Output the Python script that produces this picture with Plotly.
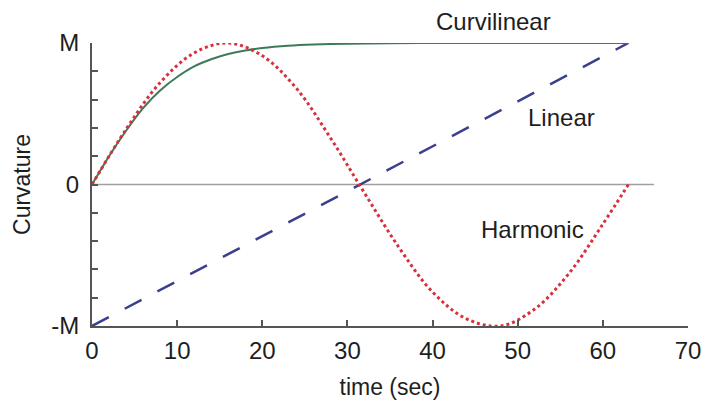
import plotly.graph_objects as go

# Time samples (sec) and normalised curvature (in units of M)
curv_t = [0, 2, 4, 6, 8, 10, 12, 14, 16, 18, 20, 23, 26, 30, 35, 42, 50, 63]
curv_k = [0, 0.20, 0.38, 0.54, 0.665, 0.76, 0.835, 0.885, 0.922, 0.947, 0.964, 0.98, 0.989, 0.995, 0.998, 1.0, 1.0, 1.0]

harm_t = [0, 4, 8, 12, 16, 20, 24, 28, 32, 36, 40, 44, 48, 52, 56, 60, 63]
harm_k = [0, 0.39, 0.72, 0.93, 1.0, 0.91, 0.68, 0.33, -0.06, -0.44, -0.76, -0.95, -1.0, -0.88, -0.63, -0.28, 0.0]

lin_t = [0, 63]
lin_k = [-1, 1]

zero_t = [0, 66]
zero_k = [0, 0]

x_ticks = [0, 10, 20, 30, 40, 50, 60, 70]
y_ticks = [-1, -0.8, -0.6, -0.4, -0.2, 0, 0.2, 0.4, 0.6, 0.8, 1]
y_ticktext = ["-M", "", "", "", "", "0", "", "", "", "", "M"]

FONT = "Liberation Sans, Arial, sans-serif"
AXIS = "#555555"
TEXT = "#1e1e1e"

fig = go.Figure()
fig.add_trace(go.Scatter(x=zero_t, y=zero_k, mode="lines",
                         line=dict(color="#a0a0a0", width=1.5), hoverinfo="skip"))
fig.add_trace(go.Scatter(x=lin_t, y=lin_k, mode="lines", name="Linear",
                         line=dict(color="#3b3f8c", width=2.5, dash="19px,18px")))
fig.add_trace(go.Scatter(x=curv_t, y=curv_k, mode="lines", name="Curvilinear",
                         line=dict(color="#3d7a58", width=2, shape="spline", smoothing=0.6)))
fig.add_trace(go.Scatter(x=harm_t, y=harm_k, mode="lines", name="Harmonic",
                         line=dict(color="#d8303c", width=3, dash="dot", shape="spline", smoothing=1)))

# Series labels: (text, x, y, vertical pixel shift)
labels = [("Curvilinear", 47.1, 1.0, 22), ("Linear", 55.1, 0.477, 0), ("Harmonic", 51.7, -0.32, 0)]
for txt, x, y, dy in labels:
    fig.add_annotation(x=x, y=y, yshift=dy, text=txt, showarrow=False,
                       font=dict(family=FONT, size=24, color=TEXT))

fig.update_layout(
    width=713, height=409,
    margin=dict(l=92, r=20, t=43, b=83),
    paper_bgcolor="white", plot_bgcolor="white",
    showlegend=False,
    font=dict(family=FONT, size=24, color=TEXT),
    xaxis=dict(range=[0, 70], tickvals=x_ticks, ticks="inside", ticklen=6,
               tickcolor=AXIS, tickwidth=1.5, showline=True, linecolor=AXIS, linewidth=2,
               showgrid=False, zeroline=False, ticklabelstandoff=2,
               title=dict(text="time (sec)", standoff=16, font=dict(size=23))),
    yaxis=dict(range=[-1, 1], tickvals=y_ticks, ticktext=y_ticktext, ticks="inside", ticklen=6,
               tickcolor=AXIS, tickwidth=1.5, showline=True, linecolor=AXIS, linewidth=2,
               showgrid=False, zeroline=False, ticklabelstandoff=6,
               title=dict(text="Curvature", standoff=14, font=dict(size=23))),
)

fig.write_html("out.html")
